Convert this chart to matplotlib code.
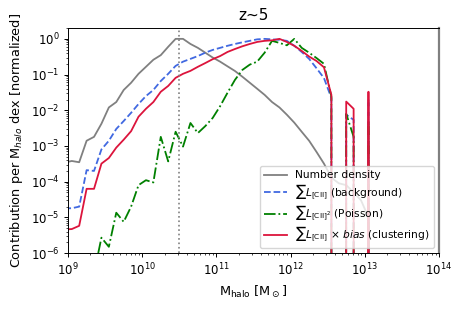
import numpy as np
import matplotlib
matplotlib.use("Agg")
import matplotlib.pyplot as plt

# log10 halo mass bin centres
logm = [8.95, 9.05, 9.15, 9.25, 9.35, 9.45, 9.55, 9.65, 9.75, 9.85, 9.95,
        10.05, 10.15, 10.25, 10.35, 10.45, 10.55, 10.65, 10.75, 10.85, 10.95,
        11.05, 11.15, 11.25, 11.35, 11.45, 11.55, 11.65, 11.75, 11.85, 11.95,
        12.05, 12.15, 12.25, 12.35, 12.45, 12.55, 12.65, 12.75, 12.85, 12.95,
        13.05, 13.15, 13.25]

number_density = [3.4e-4, 3.8e-4, 3.5e-4, 1.4e-3, 1.8e-3, 4.2e-3, 1.2e-2, 1.7e-2, 3.7e-2, 5.9e-2, 0.105,
                  0.165, 0.26, 0.35, 0.6, 1.0, 1.0, 0.72, 0.56, 0.41, 0.30,
                  0.23, 0.17, 0.126, 0.087, 0.059, 0.04, 0.027, 0.017, 0.012, 0.0075,
                  0.0045, 0.0025, 0.0014, 6.8e-4, 3.2e-4, 1.3e-4, 9e-5, 8e-5, 5e-5, 3e-5,
                  1e-5, 0, 0]

background = [1.8e-5, 1.8e-5, 2.0e-5, 2.1e-4, 2.0e-4, 8e-4, 1.4e-3, 3.0e-3, 5e-3, 8.5e-3, 0.015,
              0.025, 0.037, 0.066, 0.105, 0.175, 0.23, 0.275, 0.33, 0.41, 0.49,
              0.56, 0.64, 0.72, 0.8, 0.88, 0.97, 1.0, 0.97, 0.94, 0.88,
              0.64, 0.43, 0.275, 0.15, 0.08, 0.022, 0, 0.0075, 0.0054, 0,
              0.02, 0, 0]

poisson = [0, 0, 0, 0, 2.7e-7, 2.7e-6, 1.5e-6, 1.35e-5, 7.5e-6, 2e-5, 8e-5,
           1.1e-4, 9.5e-5, 1.8e-3, 3.7e-4, 2.5e-3, 9.6e-4, 4.4e-3, 2.3e-3, 3.6e-3, 6.1e-3,
           0.013, 0.031, 0.071, 0.135, 0.19, 0.23, 0.41, 0.88, 0.77, 0.66,
           1.0, 0.56, 0.41, 0.29, 0.2, 0.024, 0, 0.008, 0.0018, 0,
           0.005, 0, 0]

clustering = [4.6e-6, 4.7e-6, 5.8e-6, 6.3e-5, 6.3e-5, 3.2e-4, 4.6e-4, 9e-4, 1.5e-3, 2.6e-3, 6.6e-3,
              0.011, 0.017, 0.033, 0.048, 0.081, 0.105, 0.127, 0.165, 0.21, 0.27,
              0.33, 0.43, 0.52, 0.62, 0.72, 0.82, 0.88, 0.91, 1.0, 0.82,
              0.64, 0.46, 0.32, 0.24, 0.16, 0.027, 0, 0.0175, 0.011, 0,
              0.033, 0, 0]

m_peak_log = 10.5

mass = 10 ** np.array(logm)

fs = 8.5
plt.rcParams.update({
    'font.size': fs,
    'xtick.labelsize': 8.5, 'ytick.labelsize': 8.5,
    'xtick.major.size': 2.8, 'ytick.major.size': 2.8,
    'xtick.minor.size': 1.6, 'ytick.minor.size': 1.6,
    'xtick.major.width': 0.7, 'ytick.major.width': 0.7,
    'xtick.minor.width': 0.5, 'ytick.minor.width': 0.5,
    'axes.linewidth': 0.7,
})

fig = plt.figure(figsize=(4.63, 3.09), dpi=100)
ax = fig.add_axes([0.147, 0.181, 0.801, 0.728])

lw = 1.3
ax.plot(mass, number_density, color='gray', lw=lw, label='Number density')
ax.plot(mass, background, color='royalblue', lw=lw, ls='--',
        label=r'$\sum L_{\rm [CII]}$ (background)')
ax.plot(mass, poisson, color='green', lw=lw, ls='-.',
        label=r'$\sum L_{\rm [CII]^2}$ (Poisson)')
ax.plot(mass, clustering, color='crimson', lw=lw,
        label=r'$\sum L_{\rm [CII]}$ $\times$ $bias$ (clustering)')
ax.axvline(10 ** m_peak_log, color='gray', ls=':', lw=1.2)

ax.set_xscale('log')
ax.set_yscale('log')
ax.set_xlim(1e9, 1e14)
ax.set_ylim(1e-6, 2.0)
ax.set_title('z~5', fontsize=11)
ax.set_xlabel(r'M$_{\rm halo}$ [M$_\odot$]', fontsize=9.3)
ax.set_ylabel(r'Contribution per M$_{halo}$ dex [normalized]', fontsize=9.3)
ax.spines['right'].set_color('gray')
ax.spines['right'].set_linewidth(1.6)
ax.legend(loc='lower right', fontsize=7.7, labelspacing=0.12,
          handlelength=2.2, handletextpad=0.75, borderaxespad=0.45)

fig.savefig('out.png', dpi=100)
